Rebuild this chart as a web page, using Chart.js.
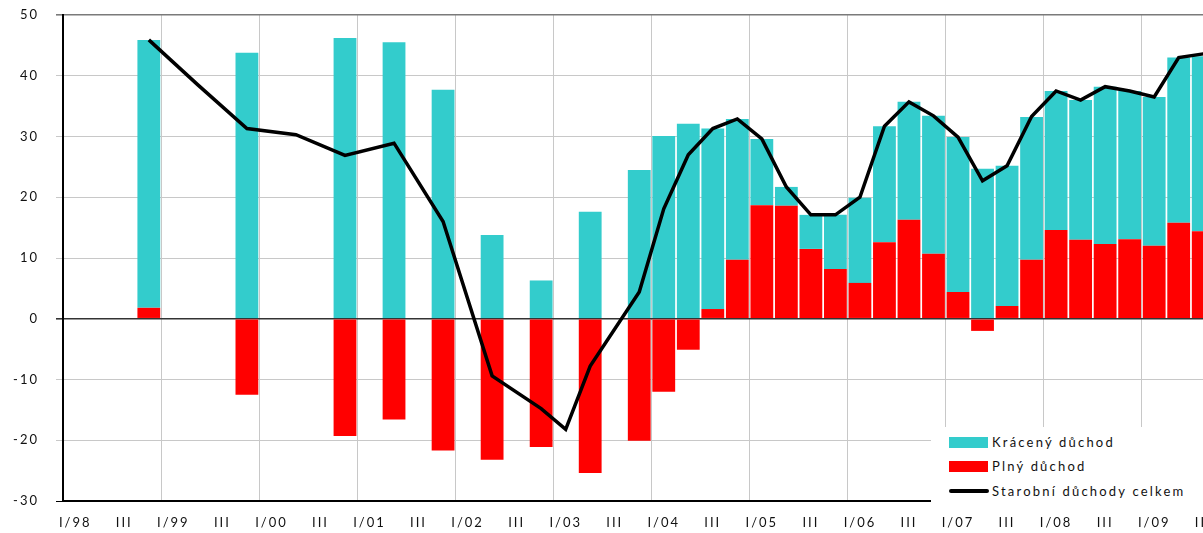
<!DOCTYPE html>
<html>
<head>
<meta charset="utf-8">
<script src="https://cdn.jsdelivr.net/npm/chart.js@4"></script>
<style>
  html, body { margin: 0; padding: 0; background: #fff; overflow: hidden; }
  #wrap { position: relative; width: 1240px; height: 533px; }
  #legend {
    position: absolute; left: 931px; top: 427px; width: 309px; height: 80px;
    background: #fff; font: 13px Lato, sans-serif; letter-spacing: 2.2px; color: #111;
  }
  .item { position: absolute; left: 18px; height: 16px; display: flex; align-items: center; white-space: nowrap; }
  .sw { width: 39px; height: 11px; margin-right: 4px; }
  .ln { width: 40px; height: 3.5px; margin-right: 3px; background: #000; border-radius: 2px; }
</style>
</head>
<body>
<div id="wrap">
  <canvas id="chart" width="1240" height="533"></canvas>
  <div id="legend">
    <div class="item" style="top:7px"><span class="sw" style="background:#33cccc"></span>Krácený důchod</div>
    <div class="item" style="top:31px"><span class="sw" style="background:#ff0000"></span>Plný důchod</div>
    <div class="item" style="top:56px"><span class="ln"></span>Starobní důchody celkem</div>
  </div>
</div>
<script>
// quarters I/98 .. IV/09; the picture is cut off just after III/09
const years = ["98", "99", "00", "01", "02", "03", "04", "05", "06", "07", "08", "09"];
const quarterNames = ["I", "II", "III", "IV"];
const quarters = years.flatMap((y) => quarterNames.map((q) => q + "/" + y));

// Plný důchod (red)
const plny = [
  null, null, null, 1.8,
  null, null, null, -12.5,
  null, null, null, -19.3,
  null, -16.6, null, -21.7,
  null, -23.2, null, -21.1,
  null, -25.4, null, -20.1,
  -12.0, -5.1, 1.6, 9.7,
  18.7, 18.6, 11.5, 8.2,
  5.9, 12.6, 16.3, 10.7,
  4.4, -2.0, 2.1, 9.7,
  14.6, 13.0, 12.3, 13.1,
  12.0, 15.8, 14.4, null,
];

// Krácený důchod (cyan)
const kraceny = [
  null, null, null, 44.1,
  null, null, null, 43.8,
  null, null, null, 46.2,
  null, 45.5, null, 37.7,
  null, 13.8, null, 6.3,
  null, 17.6, null, 24.5,
  30.1, 32.1, 29.7, 23.2,
  10.9, 3.1, 5.6, 8.9,
  14.0, 19.1, 19.4, 22.7,
  25.5, 24.7, 23.1, 23.5,
  22.9, 23.0, 25.9, 24.4,
  24.5, 27.2, 28.8, null,
];

// Starobní důchody celkem (black line)
const celkem = [
  null, null, null, 45.9,
  null, 38.5, null, 31.3,
  null, 30.3, null, 26.9,
  null, 28.9, null, 16.0,
  null, -9.4, null, -14.8,
  -18.2, -7.8, null, 4.4,
  18.1, 27.0, 31.3, 32.9,
  29.6, 21.7, 17.1, 17.1,
  20.0, 31.7, 35.7, 33.4,
  29.9, 22.7, 25.2, 33.3,
  37.5, 36.0, 38.2, 37.5,
  36.5, 43.0, 43.6, null,
];

// only I/yy and III get a label
function tickText(i) {
  const q = i % 4;
  if (q === 0) return quarters[i];
  if (q === 2) return "III";
  return "";
}

const tickFont = { family: "Lato, sans-serif", size: 13 };

// Chart.js has no letter-spacing option, set it on the context
const spacing = {
  id: "spacing",
  beforeLayout(chart) { chart.ctx.letterSpacing = "2px"; },
  beforeDraw(chart) { chart.ctx.letterSpacing = "2px"; },
};

function yGridColor(c) {
  const v = c.tick ? c.tick.value : null;
  if (v === 0) return "#333";
  if (v === 50) return "#7a7a7a";
  if (v === -30) return "#000";
  return "#c8c8c8";
}

new Chart(document.getElementById("chart"), {
  type: "bar",
  data: {
    labels: quarters,
    datasets: [
      {
        type: "line", label: "Starobní důchody celkem", data: celkem,
        borderColor: "#000", borderWidth: 3.5, pointRadius: 0, tension: 0,
        spanGaps: true, stack: "line", order: 0,
      },
      { label: "Plný důchod", data: plny, backgroundColor: "#ff0000", stack: "bars", order: 1 },
      { label: "Krácený důchod", data: kraceny, backgroundColor: "#33cccc", stack: "bars", order: 1 },
    ],
  },
  options: {
    responsive: false,
    animation: false,
    devicePixelRatio: 1,
    barPercentage: 0.93,
    categoryPercentage: 1,
    layout: { padding: { top: 15, right: 0, bottom: 0, left: 0 } },
    plugins: { legend: { display: false }, tooltip: { enabled: false } },
    scales: {
      x: {
        stacked: true,
        offset: true,
        grid: {
          offset: true, drawTicks: false,
          color: (c) => (c.index % 4 === 0 ? "#c8c8c8" : "transparent"),
        },
        border: { color: "#000", width: 1.5 },
        ticks: {
          autoSkip: false, maxRotation: 0, padding: 14,
          font: tickFont, color: "#111",
          callback: (v, i) => tickText(i),
        },
        afterFit: (s) => { s.height = 32; s.paddingLeft = 0; s.paddingRight = 0; },
      },
      y: {
        stacked: true,
        min: -30, max: 50,
        ticks: { stepSize: 10, padding: 17, font: tickFont, color: "#111" },
        grid: {
          color: yGridColor,
          lineWidth: (c) => (c.tick && (c.tick.value === 50 || c.tick.value === 0) ? 1.6 : 1),
          tickLength: 7,
        },
        border: { color: "#000", width: 2 },
        afterFit: (s) => { s.width = 63; s.paddingTop = 0; s.paddingBottom = 0; },
      },
    },
  },
  plugins: [spacing],
});
</script>
</body>
</html>
